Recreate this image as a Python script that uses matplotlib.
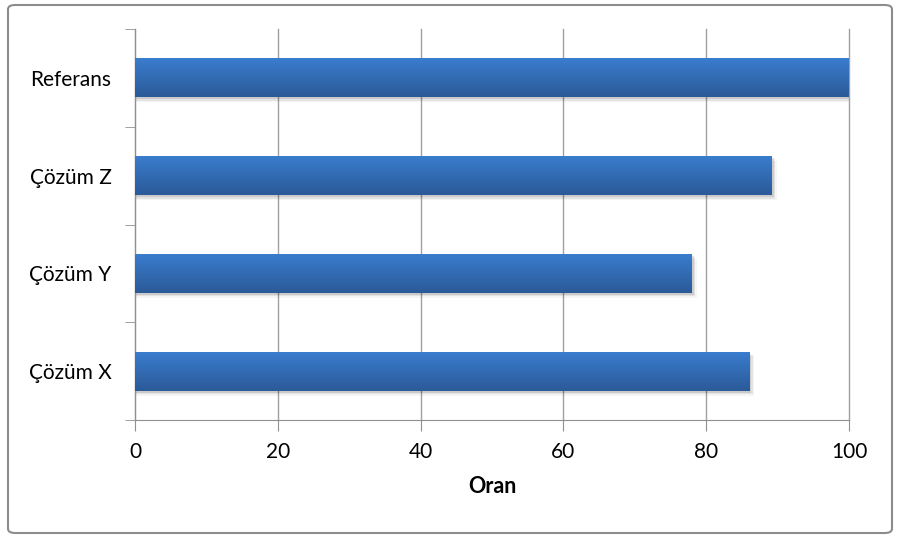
import matplotlib.pyplot as plt
import numpy as np
from matplotlib.patches import FancyBboxPatch
from matplotlib.colors import LinearSegmentedColormap

# data, bottom to top
categories = ['Çözüm X', 'Çözüm Y', 'Çözüm Z', 'Referans']
values = [86, 78, 89.2, 100]
xticks = [0, 20, 40, 60, 80, 100]

plt.rcParams['font.family'] = ['Lato', 'DejaVu Sans']

fig = plt.figure(figsize=(8.98, 5.39), dpi=100)
ax = fig.add_axes([135 / 898, 1 - 420 / 539, 714 / 898, 391 / 539])

grad = LinearSegmentedColormap.from_list('bar', ['#2b5a98', '#3a7dcf'])
bar_h = 0.4
ys = np.arange(len(categories))
for y, v in zip(ys, values):
    # soft shadow under the bar
    for k, a in enumerate([0.10, 0.07, 0.04]):
        ax.add_patch(plt.Rectangle((0, y - bar_h / 2 - 0.02 - 0.015 * k), v + 0.3 + 0.2 * k, bar_h,
                                   color='black', alpha=a, lw=0, zorder=2))
    bars = ax.barh(y, v, height=bar_h, color='none', zorder=3)
    patch = bars[0]
    img = ax.imshow(np.linspace(0, 1, 64).reshape(-1, 1), cmap=grad, aspect='auto',
                    extent=(0, v, y - bar_h / 2, y + bar_h / 2), origin='lower', zorder=3)
    img.set_clip_path(patch)

ax.set_xlim(0, 100)
ax.set_ylim(-0.5, len(categories) - 0.5)
ax.set_xticks(xticks)
ax.set_xticklabels([str(t) for t in xticks], fontsize=15)
ax.set_yticks(ys)
ax.set_yticklabels(categories, fontsize=15)
ax.tick_params(axis='y', length=0, pad=17)
ax.set_yticks(np.arange(-0.5, len(categories)), minor=True)
ax.tick_params(axis='y', which='minor', length=7, color='#909090')
ax.tick_params(axis='x', length=8, color='#909090', pad=8)
ax.grid(axis='x', color='#a0a0a0', lw=1, zorder=1)
for gl in ax.get_xgridlines():
    gl.set_clip_on(False)
ax.set_axisbelow(True)
for s in ['top', 'right']:
    ax.spines[s].set_visible(False)
for s in ['left', 'bottom']:
    ax.spines[s].set_color('#909090')
ax.set_xlabel('Oran', fontsize=15.5, fontweight='bold', labelpad=10)

# outer chart frame
frame = FancyBboxPatch((8 / 898, 6 / 539), 884 / 898, 528 / 539,
                       boxstyle='round,pad=0,rounding_size=0.008', transform=fig.transFigure,
                       fill=False, edgecolor='#8c8c8c', lw=1.5)
fig.patches.append(frame)

fig.savefig('out.png', dpi=100)
